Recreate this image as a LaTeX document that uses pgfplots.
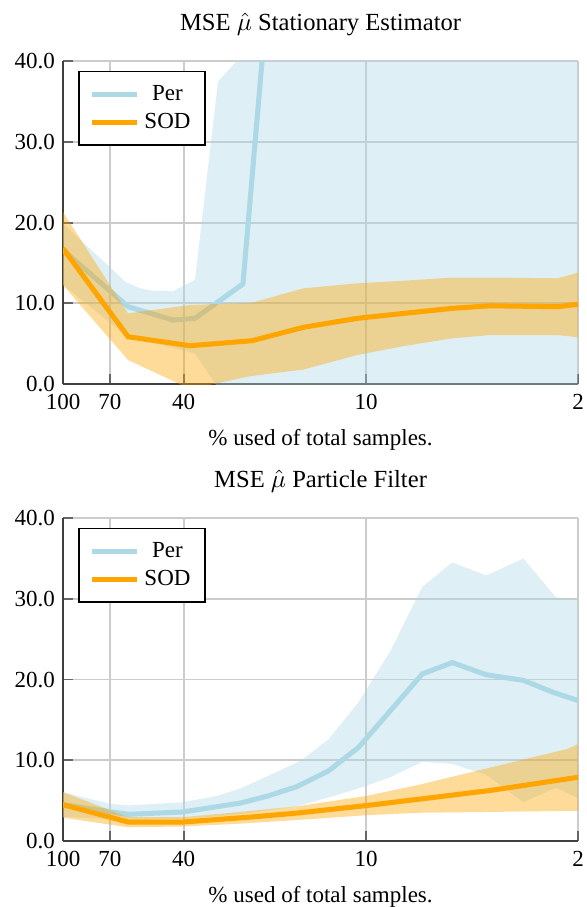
\documentclass[border=0pt]{standalone}
\usepackage{fontspec}
\setmainfont{Liberation Serif}
\usepackage{pgfplots}
\pgfplotsset{compat=1.18}
\definecolor{perblue}{RGB}{173,216,230}
\definecolor{sodorange}{RGB}{255,165,0}
\pgfplotsset{
  legend image code/.code={\draw[#1] (0cm,0cm) -- (0.7cm,0cm);},
}
\begin{document}
\begin{tikzpicture}
\begin{axis}[
    width=224pt, height=140.4pt, scale only axis,
    xmode=log, x dir=reverse, xmin=2, xmax=100,
    ymin=0, ymax=40,
    xtick={100,70,40,10,2}, xticklabels={100,70,40,10,2},
    minor x tick num=0,
    ytick={0,10,20,30,40},
    /pgf/number format/assume math mode=true,
    yticklabel style={/pgf/number format/.cd, fixed, fixed zerofill, precision=1},
    xticklabel style={yshift=-1pt},
    grid=major,
    major grid style={gray!40, line width=0.8pt},
    axis x line*=bottom, axis y line*=left,
    axis line style={-, black!75, line width=0.8pt},
    tick align=inside, major tick length=4.5pt,
    tick style={black!60, line width=0.8pt},
    xlabel={$\%$ used of total samples.},
    xlabel style={yshift=-1.5pt},
    title style={yshift=1.5pt, font=\fontsize{10.7}{13}\selectfont},
    legend cell align=center,
    legend style={at={(0.03,0.97)}, anchor=north west, draw=black, line width=0.6pt, inner xsep=4.3pt, inner ysep=3.9pt},
    title={MSE $\hat{\mu}$ Stationary Estimator}]
\addplot[fill=perblue, fill opacity=0.4, draw=none, forget plot] coordinates {(100,19.9)(62.4,12.7)(55.7,11.86)(49.7,11.5)(43.4,11.5)(36.7,12.9)(30.8,37.5)(26.0,40.5)(16.1,200)(2,200)
 (2,-5)(26,-5)(30.8,-0.5)(36.7,3.8)(43.4,4.5)(61,5.8)(100,12.3)};
\addplot[perblue, line width=2.2pt] coordinates {(100,16.6)(61,9.58)(43.4,7.93)(36.7,8.14)(25.5,12.4)(16.1,100)(2,100)};
\addlegendentry{Per}
\addplot[fill=sodorange, fill opacity=0.4, draw=none, forget plot] coordinates {(100,21.3)(61,8.76)(38.1,9.8)(23.8,10.07)(16.1,11.86)(10.7,12.48)(7.54,12.8)(5.2,13.2)(3.9,13.2)(2.34,13.1)(2,13.8)
 (2,5.79)(2.34,6.07)(3.9,6.07)(5.2,5.66)(7.54,4.7)(10.7,3.6)(16.1,1.8)(23.8,1.0)(38.1,-0.6)(61,2.97)(100,12.27)};
\addplot[sodorange, line width=2.2pt] coordinates {(100,16.8)(61,5.86)(38.1,4.75)(23.8,5.37)(16.1,7.03)(10.7,8.14)(7.54,8.75)(5.2,9.38)(3.9,9.70)(2.34,9.58)(2,9.88)};
\addlegendentry{SOD}
\end{axis}
\begin{axis}[
    at={(0,-198.7pt)},
    width=224pt, height=140.4pt, scale only axis,
    xmode=log, x dir=reverse, xmin=2, xmax=100,
    ymin=0, ymax=40,
    xtick={100,70,40,10,2}, xticklabels={100,70,40,10,2},
    minor x tick num=0,
    ytick={0,10,20,30,40},
    /pgf/number format/assume math mode=true,
    yticklabel style={/pgf/number format/.cd, fixed, fixed zerofill, precision=1},
    xticklabel style={yshift=-1pt},
    grid=major,
    major grid style={gray!40, line width=0.8pt},
    axis x line*=bottom, axis y line*=left,
    axis line style={-, black!75, line width=0.8pt},
    tick align=inside, major tick length=4.5pt,
    tick style={black!60, line width=0.8pt},
    xlabel={$\%$ used of total samples.},
    xlabel style={yshift=-1.5pt},
    title style={yshift=1.5pt, font=\fontsize{10.7}{13}\selectfont},
    legend cell align=center,
    legend style={at={(0.03,0.97)}, anchor=north west, draw=black, line width=0.6pt, inner xsep=4.3pt, inner ysep=3.9pt},
    title={MSE $\hat{\mu}$ Particle Filter}]
\addplot[fill=perblue, fill opacity=0.4, draw=none, forget plot] coordinates {(100,6.05)(70,4.6)(61,4.4)(40.2,4.8)(31,5.6)(26,6.5)(20.7,8.2)(16.5,9.9)(13.3,12.6)(10.6,17.2)(8.33,23.5)(6.53,31.5)(5.2,34.5)(4.02,32.9)(3.03,35.0)(2.37,30.2)(2,29.8)
 (2,5.3)(2.37,6.6)(3.03,4.8)(4.02,8.2)(5.2,9.55)(6.53,9.8)(8.33,7.9)(10.6,6.5)(13.3,5.4)(16.9,4.3)(26,3.3)(40.2,2.7)(61,2.6)(100,3.0)};
\addplot[perblue, line width=2.2pt] coordinates {(100,4.5)(61,3.3)(40.2,3.6)(26,4.7)(21,5.6)(16.9,6.75)(13.3,8.7)(10.6,11.6)(8.52,15.7)(6.53,20.7)(5.2,22.1)(4.02,20.6)(3.03,19.9)(2.41,18.4)(2,17.4)};
\addlegendentry{Per}
\addplot[fill=sodorange, fill opacity=0.4, draw=none, forget plot] coordinates {(100,6.05)(61,2.96)(40.2,2.96)(26,3.6)(16.9,4.3)(9.93,5.6)(6.63,7.0)(3.9,9.1)(2.17,11.4)(2,12.0)
 (2,3.75)(3.9,3.6)(6.63,3.5)(9.93,3.2)(16.9,2.6)(26,2.15)(40.2,1.8)(61,1.7)(100,2.9)};
\addplot[sodorange, line width=2.2pt] coordinates {(100,4.5)(61,2.35)(40.2,2.35)(24.1,2.96)(16.9,3.46)(9.93,4.4)(6.63,5.2)(3.9,6.26)(2,7.9)};
\addlegendentry{SOD}
\end{axis}
\pgfresetboundingbox
\useasboundingbox (-27.4pt,-227.4pt) rectangle (227.8pt,167pt);
\end{tikzpicture}
\end{document}
